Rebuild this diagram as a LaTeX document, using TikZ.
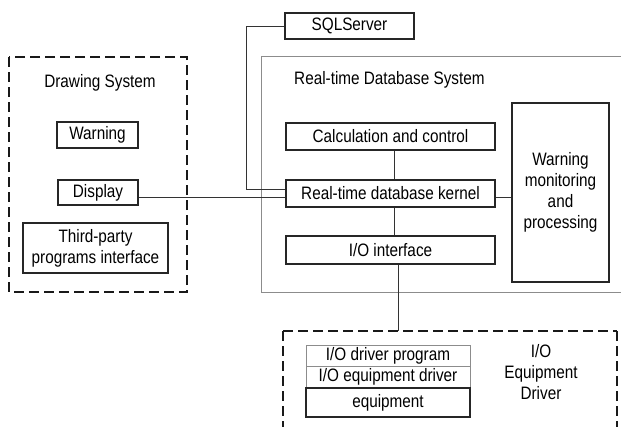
\documentclass[tikz,border=0pt]{standalone}
\usepackage{fontspec}
\setmainfont[FakeStretch=0.85]{Liberation Sans}
\begin{document}
\begin{tikzpicture}[x=1pt,y=-1pt,
  every node/.style={font=\fontsize{18}{21}\selectfont, inner sep=0pt, align=center},
  box/.style={draw=black!85, line width=1.1pt},
  gbox/.style={draw=black!45, line width=1pt},
  dbox/.style={draw=black!90, line width=2.2pt, dash pattern=on 10pt off 5pt},
  conn/.style={draw=black!80, line width=1pt},
  txt/.style={}]
\useasboundingbox (0,0) rectangle (621,426);
\clip (0,0) rectangle (621,426);
\fill[white] (0,0) rectangle (621,426);

% Drawing system
\draw[dbox] (9,57) rectangle (187,292);
\node[txt] (dstitle) at (100,83) {Drawing System};
\node[box, minimum width=81pt, minimum height=26pt] (warn) at (97.5,135) {Warning};
\node[box, minimum width=80pt, minimum height=25pt] (display) at (98,192.5) {Display};
\node[box, minimum width=145pt, minimum height=50pt] (third) at (95.5,248) {Third-party\\programs interface};

% Real-time Database system
\draw[gbox] (261,56) rectangle (640,292);
\node[txt, anchor=west] (rtdbtitle) at (294,80) {Real-time Database System};
\node[box, minimum width=129pt, minimum height=26pt] (sql) at (349.5,26) {SQLServer};
\node[box, minimum width=209pt, minimum height=27pt] (calc) at (390.5,136.5) {Calculation and control};
\node[box, minimum width=209pt, minimum height=27pt] (kernel) at (390.5,193.5) {Real-time database kernel};
\node[box, minimum width=209pt, minimum height=28pt] (io) at (390.5,250) {I/O interface};
\node[box, minimum width=97pt, minimum height=179pt] (wm) at (560.5,192.5) {Warning\\monitoring\\and\\processing};

% IO equipment driver
\draw[dbox] (283,331) -- (617,331);
\draw[dbox] (283,331) -- (283,440);
\draw[dbox] (617,331) -- (617,440);
\coordinate (iotop) at (398,331);
\node[txt] (ioedtitle) at (541,372) {I/O\\Equipment\\Driver};
\node[gbox, minimum width=164pt, minimum height=21pt] (drvprog) at (388,355.5) {I/O driver program};
\node[gbox, minimum width=164pt, minimum height=22pt] (eqdrv) at (388,377) {I/O equipment driver};
\node[box, minimum width=164pt, minimum height=29pt] (equip) at (388,402.5) {equipment};

% connectors
\coordinate (sqlbend) at (246,26);
\draw[conn] (sql.west) -- (sqlbend) |- ([yshift=4.5pt]kernel.west);
\draw[conn] ([yshift=-4.5pt]display.east) -- ([yshift=-3.5pt]kernel.west);
\draw[conn] ([xshift=3.5pt]calc.south) -- ([xshift=3.5pt]kernel.north);
\draw[conn] ([xshift=3.5pt]kernel.south) -- ([xshift=3.5pt]io.north);
\draw[conn] ([yshift=-3.5pt]kernel.east) -- ([yshift=-3.5pt]kernel.east -| wm.west);
\draw[conn] ([xshift=7.5pt]io.south) -- (iotop);
\end{tikzpicture}
\end{document}
